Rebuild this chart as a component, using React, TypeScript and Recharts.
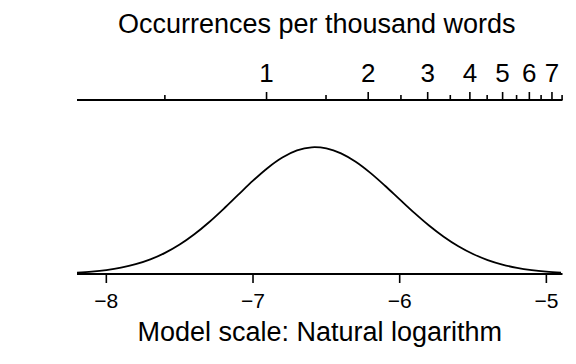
import React from 'react';
import { LineChart, Line, XAxis, YAxis } from 'recharts';

// Natural-log positions along the model scale and the density
const logPositions = [
  -8.2, -8.1, -8.0, -7.9, -7.8, -7.7, -7.6, -7.5, -7.4, -7.3, -7.2, -7.1, -7.0,
  -6.9, -6.8, -6.7, -6.6, -6.58, -6.5, -6.4, -6.3, -6.2, -6.1, -6.0, -5.9, -5.8,
  -5.7, -5.6, -5.5, -5.4, -5.3, -5.2, -5.1, -5.0, -4.9,
];
const densityValues = [
  0.008, 0.0136, 0.0226, 0.0363, 0.0561, 0.0839, 0.1212, 0.1692, 0.2283, 0.2975,
  0.3747, 0.4561, 0.5364, 0.6096, 0.6694, 0.7103, 0.7283, 0.729, 0.7221, 0.6935,
  0.6451, 0.5812, 0.5072, 0.4287, 0.351, 0.2784, 0.2139, 0.1591, 0.1147, 0.0801,
  0.0542, 0.0355, 0.0225, 0.0138, 0.0082,
];

const bottomTicks = [-8, -7, -6, -5];
const topMajorLabels = [1, 2, 3, 4, 5, 6, 7];
const topMinorLabels = [0.5, 1.5, 2.5, 3.5, 4.5, 5.5, 6.5, 7.5];
const xDomain = [-8.2, -4.89];
const topTitle = 'Occurrences per thousand words';
const bottomTitle = 'Model scale: Natural logarithm';

const FONT = '"Liberation Sans", Arial, Helvetica, sans-serif';

const data = logPositions.map((x, i) => ({ x, y: densityValues[i] }));
const topTicks = [...topMinorLabels, ...topMajorLabels]
  .sort((a, b) => a - b)
  .map((k) => Math.log(k / 1000));

const TopTick = (props: any) => {
  const { x, y, payload } = props;
  const k = Math.round(Math.exp(payload.value) * 2000) / 2;
  const major = Number.isInteger(k);
  return (
    <g>
      <line x1={x} x2={x} y1={y} y2={y - (major ? 8 : 5)} stroke="#000" strokeWidth={1.6} />
      {major && (
        <text x={x} y={y - 18} textAnchor="middle" fontSize={26} fill="#000" style={{ fontFamily: FONT }}>
          {k}
        </text>
      )}
    </g>
  );
};

const BottomTick = (props: any) => {
  const { x, y, payload } = props;
  const v = payload.value;
  const label = v < 0 ? '\u2212' + Math.abs(v) : String(v);
  return (
    <g>
      <line x1={x} x2={x} y1={y} y2={y + 9} stroke="#000" strokeWidth={1.6} />
      <text x={x} y={y + 34} textAnchor="middle" fontSize={21} fill="#000" style={{ fontFamily: FONT }}>
        {label}
      </text>
    </g>
  );
};

const TopTitle = (props: any) => {
  const vb = props.viewBox || {};
  return (
    <text x={vb.x + vb.width / 2 - 3} y={33} textAnchor="middle" fontSize={27} fill="#000" style={{ fontFamily: FONT }}>
      {topTitle}
    </text>
  );
};

const BottomTitle = (props: any) => {
  const vb = props.viewBox || {};
  return (
    <text x={vb.x + vb.width / 2} y={341} textAnchor="middle" fontSize={27} fill="#000" style={{ fontFamily: FONT }}>
      {bottomTitle}
    </text>
  );
};

export default function App() {
  return (
    <div style={{ position: 'absolute', left: 0, top: 0, width: 576, height: 364, background: '#fff', fontFamily: FONT }}>
      <LineChart width={576} height={364} data={data} margin={{ top: 0, right: 13.5, bottom: 0, left: 77 }}>
        <XAxis
          xAxisId="top"
          orientation="top"
          dataKey="x"
          type="number"
          domain={xDomain}
          allowDataOverflow
          ticks={topTicks}
          interval={0}
          height={100}
          tickSize={0}
          tickMargin={0}
          tickLine={false}
          axisLine={{ stroke: '#000', strokeWidth: 2 }}
          tick={<TopTick />}
          label={<TopTitle />}
        />
        <XAxis
          xAxisId="bottom"
          orientation="bottom"
          dataKey="x"
          type="number"
          domain={xDomain}
          allowDataOverflow
          ticks={bottomTicks}
          interval={0}
          height={90}
          tickSize={0}
          tickMargin={0}
          tickLine={false}
          axisLine={{ stroke: '#000', strokeWidth: 2 }}
          tick={<BottomTick />}
          label={<BottomTitle />}
        />
        <YAxis hide domain={[0, 1]} type="number" />
        <Line
          xAxisId="bottom"
          dataKey="y"
          type="monotone"
          stroke="#000"
          strokeWidth={1.8}
          dot={false}
          isAnimationActive={false}
        />
      </LineChart>
    </div>
  );
}
